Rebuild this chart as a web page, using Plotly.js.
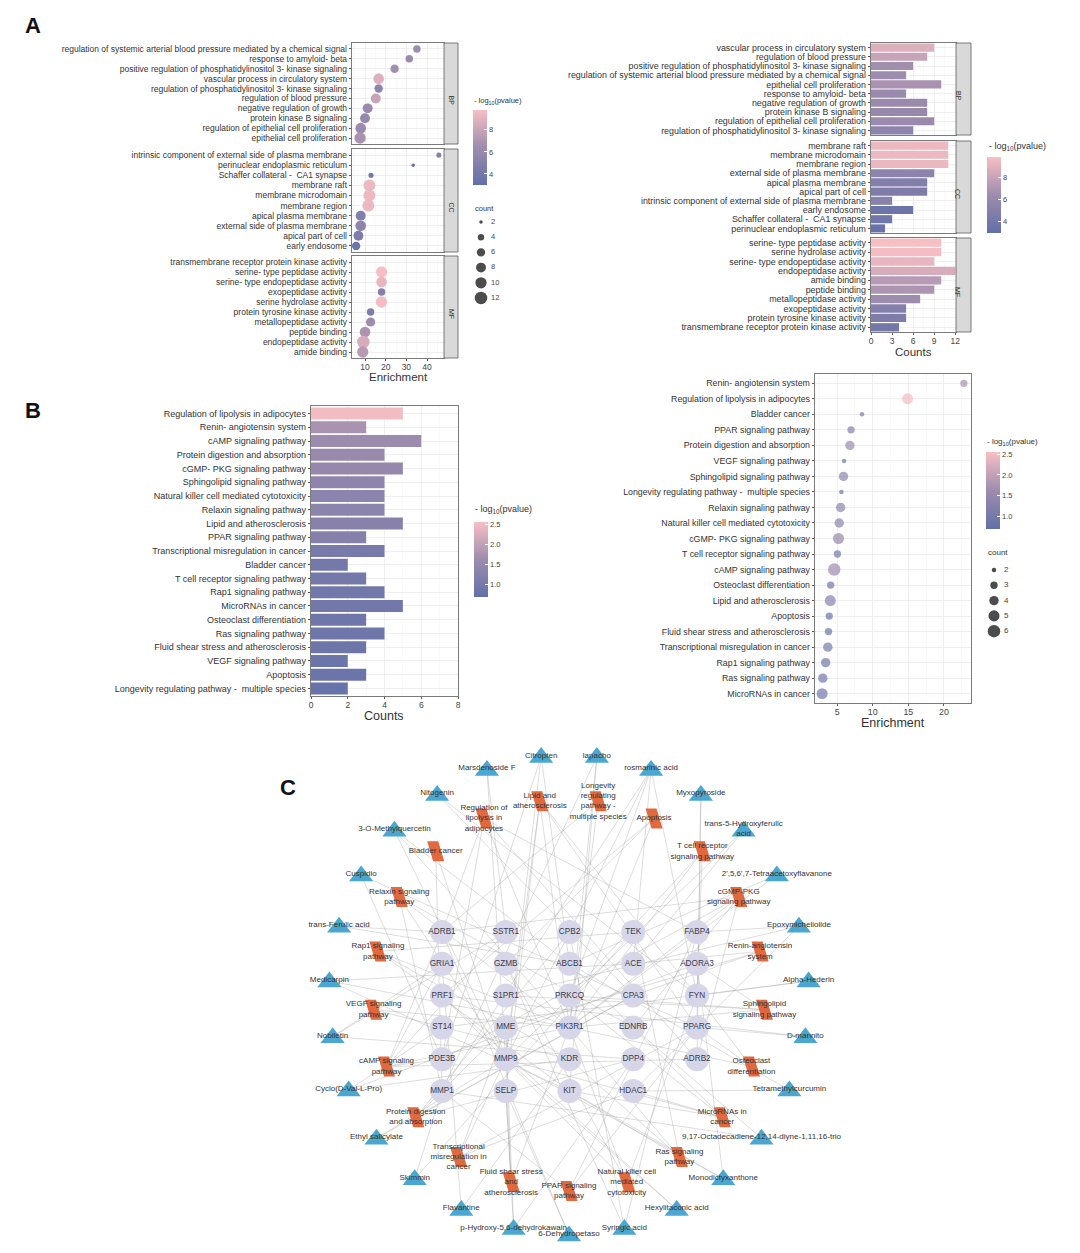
<!DOCTYPE html>
<html><head><meta charset="utf-8">
<script src="https://cdn.plot.ly/plotly-3.0.1.min.js"></script>
<style>html,body{margin:0;padding:0;background:#fff}#fig{width:1080px;height:1253px}</style>
</head><body><div id="fig"></div>
<script>
// ---------------- DATA ----------------
// GO - Biological process (dot-plot order, top to bottom)
const bpTerms = ["regulation of systemic arterial blood pressure mediated by a chemical signal","response to amyloid- beta","positive regulation of phosphatidylinositol 3- kinase signaling","vascular process in circulatory system","regulation of phosphatidylinositol 3- kinase signaling","regulation of blood pressure","negative regulation of growth","protein kinase B signaling","regulation of epithelial cell proliferation","epithelial cell proliferation"];
const bpEnrich = [35.1,31.4,24.3,16.6,16.6,15.2,11.3,10.0,7.9,7.6];
const bpCount  = [5,5,6,9,6,8,8,8,9,10];
const bpLogP   = [6.4,6.2,6.6,8.8,5.4,8.0,6.2,6.0,6.2,6.8];
const bpBarOrder = ["vascular process in circulatory system","regulation of blood pressure","positive regulation of phosphatidylinositol 3- kinase signaling","regulation of systemic arterial blood pressure mediated by a chemical signal","epithelial cell proliferation","response to amyloid- beta","negative regulation of growth","protein kinase B signaling","regulation of epithelial cell proliferation","regulation of phosphatidylinositol 3- kinase signaling"];

// GO - Cellular component
const ccTerms = ["intrinsic component of external side of plasma membrane","perinuclear endoplasmic reticulum","Schaffer collateral -  CA1 synapse","membrane raft","membrane microdomain","membrane region","apical plasma membrane","external side of plasma membrane","apical part of cell","early endosome"];
const ccEnrich = [45.7,33.3,12.9,12.1,12.1,11.6,7.9,7.9,6.8,5.7];
const ccCount  = [3,2,3,11,11,11,8,9,8,6];
const ccLogP   = [5.2,3.3,3.8,9.4,9.4,9.3,4.8,5.4,4.6,3.6];
const ccBarOrder = ["membrane raft","membrane microdomain","membrane region","external side of plasma membrane","apical plasma membrane","apical part of cell","intrinsic component of external side of plasma membrane","early endosome","Schaffer collateral -  CA1 synapse","perinuclear endoplasmic reticulum"];

// GO - Molecular function
const mfTerms = ["transmembrane receptor protein kinase activity","serine- type peptidase activity","serine- type endopeptidase activity","exopeptidase activity","serine hydrolase activity","protein tyrosine kinase activity","metallopeptidase activity","peptide binding","endopeptidase activity","amide binding"];
const mfEnrich = [null,18.0,18.0,18.0,18.0,12.7,12.7,10.0,9.2,8.9];
const mfCount  = [4,10,9,5,10,5,7,9,12,10];
const mfLogP   = [4.0,9.8,9.2,5.0,9.7,4.6,6.4,7.0,8.6,7.4];
const mfBarOrder = ["serine- type peptidase activity","serine hydrolase activity","serine- type endopeptidase activity","endopeptidase activity","amide binding","peptide binding","metallopeptidase activity","exopeptidase activity","protein tyrosine kinase activity","transmembrane receptor protein kinase activity"];

// KEGG (bar-chart order)
const keggTerms = ["Regulation of lipolysis in adipocytes","Renin- angiotensin system","cAMP signaling pathway","Protein digestion and absorption","cGMP- PKG signaling pathway","Sphingolipid signaling pathway","Natural killer cell mediated cytotoxicity","Relaxin signaling pathway","Lipid and atherosclerosis","PPAR signaling pathway","Transcriptional misregulation in cancer","Bladder cancer","T cell receptor signaling pathway","Rap1 signaling pathway","MicroRNAs in cancer","Osteoclast differentiation","Ras signaling pathway","Fluid shear stress and atherosclerosis","VEGF signaling pathway","Apoptosis","Longevity regulating pathway -  multiple species"];
const keggCount  = [5,3,6,4,5,4,4,4,5,3,4,2,3,4,5,3,4,3,2,3,2];
const keggLogP   = [2.5,1.75,1.6,1.55,1.5,1.4,1.35,1.35,1.3,1.25,1.05,1.0,1.0,0.95,0.95,0.9,0.9,0.88,0.85,0.85,0.8];
const keggEnrich = [14.9,22.8,4.6,6.8,5.2,5.9,5.3,5.5,4.05,6.96,3.7,8.5,5.05,3.4,2.9,4.1,3.0,3.8,5.98,3.9,5.6];
const keggDotOrder = ["Renin- angiotensin system","Regulation of lipolysis in adipocytes","Bladder cancer","PPAR signaling pathway","Protein digestion and absorption","VEGF signaling pathway","Sphingolipid signaling pathway","Longevity regulating pathway -  multiple species","Relaxin signaling pathway","Natural killer cell mediated cytotoxicity","cGMP- PKG signaling pathway","T cell receptor signaling pathway","cAMP signaling pathway","Osteoclast differentiation","Lipid and atherosclerosis","Apoptosis","Fluid shear stress and atherosclerosis","Transcriptional misregulation in cancer","Rap1 signaling pathway","Ras signaling pathway","MicroRNAs in cancer"];

// legend values
const goSizeLegend = [2,4,6,8,10,12];
const keggSizeLegend = [2,3,4,5,6];
const goCbTicks = [4,6,8];
const keggCbTicks = [1.0,1.5,2.0,2.5];

// Network
const netCompounds = ["Citropten","lapacho","rosmarinic acid","Myxopyroside","trans-5-Hydroxyferulic<br>acid","2',5,6',7-Tetraacetoxyflavanone","Epoxymicheliolide","Alpha-Hederin","D-mannito","Tetramethylcurcumin","9,17-Octadecadiene-12,14-diyne-1,11,16-trio","Monodictyxanthone","Hexylitaconic acid","Syringic acid","6-Dehydropetaso","p-Hydroxy-5,6-dehydrokawain","Flavantine","Skimmin","Ethyl salicylate","Cyclo(D-Val-L-Pro)","Nobiletin","Medicarpin","trans-Ferulic acid","Cuspidio","3-O-Methylquercetin","Nitogenin","Marsdenoside F"];
const netPathways = ["Lipid and<br>atherosclerosis","Longevity<br>regulating<br>pathway -<br>multiple species","Apoptosis","T cell receptor<br>signaling pathway","cGMP-PKG<br>signaling pathway","Renin-angiotensin<br>system","Sphingolipid<br>signaling pathway","Osteoclast<br>differentiation","MicroRNAs in<br>cancer","Ras signaling<br>pathway","Natural killer cell<br>mediated<br>cytotoxicity","PPAR signaling<br>pathway","Fluid shear stress<br>and<br>atherosclerosis","Transcriptional<br>misregulation in<br>cancer","Protein digestion<br>and absorption","cAMP signaling<br>pathway","VEGF signaling<br>pathway","Rap1 signaling<br>pathway","Relaxin signaling<br>pathway","Bladder cancer","Regulation of<br>lipolysis in<br>adipocytes"];
const netGenes = ["ADRB1","SSTR1","CPB2","TEK","FABP4","GRIA1","GZMB","ABCB1","ACE","ADORA3","PRF1","S1PR1","PRKCQ","CPA3","FYN","ST14","MME","PIK3R1","EDNRB","PPARG","PDE3B","MMP9","KDR","DPP4","ADRB2","MMP1","SELP","KIT","HDAC1"];
const pathwayGenes = [
 ["MMP9","PIK3R1","SELP","FYN","PPARG"],["ADRB1","PIK3R1"],["GZMB","PRF1","PIK3R1"],["FYN","PRKCQ","PIK3R1"],
 ["ADRB1","ADRB2","PDE3B","PIK3R1","EDNRB"],["ACE","MME","CPA3"],["S1PR1","PIK3R1","PRKCQ","ADORA3"],["FYN","PIK3R1","PPARG"],
 ["MMP9","HDAC1","ABCB1","KIT","PRKCQ"],["KDR","TEK","KIT","PIK3R1"],["GZMB","PRF1","PIK3R1","FYN"],["PPARG","FABP4","MMP1"],
 ["MMP9","PIK3R1","SELP"],["MMP9","PPARG","HDAC1","MME"],["MME","DPP4","CPB2","CPA3"],["ADRB1","ADRB2","PDE3B","PIK3R1","SSTR1","GRIA1"],
 ["KDR","PIK3R1"],["KDR","PIK3R1","TEK","KIT"],["MMP1","MMP9","PIK3R1","EDNRB"],["MMP1","MMP9"],["ADRB1","ADRB2","PDE3B","PIK3R1","FABP4"]];
const compoundGenes = [
 ["ABCB1","PDE3B","MMP9"],["KIT","MMP1","PIK3R1"],["MMP9","ACE","PRKCQ","MMP1","FYN"],["PPARG","ADRB2"],["MMP9","ACE"],
 ["ABCB1","PIK3R1"],["HDAC1","S1PR1","FABP4"],["ST14","FYN"],["PRF1","PPARG"],["HDAC1","ABCB1"],["MMP1","EDNRB"],
 ["KIT","ADORA3","MMP9"],["MMP9","PRF1"],["GZMB","CPB2","FABP4"],["SELP","ADRB1"],["SELP","MME","DPP4"],["GRIA1","KDR"],
 ["MMP1","TEK"],["CPA3","MMP9"],["ST14","KDR","ADORA3"],["GRIA1","SSTR1","DPP4"],["PIK3R1","ACE","KIT"],["ABCB1","ADRB1"],
 ["PPARG","PDE3B"],["MMP9","ABCB1","PIK3R1"],["FYN","CPA3"],["SSTR1","MMP9"]];

// ---------------- STYLE / HELPERS ----------------
const W=1080,H=1253;
const FONT='"Liberation Sans", Arial, Helvetica, sans-serif';
const TXT='#333';
const CSCALE=[[0,'#6270a8'],[0.5,'#9d8cad'],[1,'#f7bfc4']];
const px=v=>v/W, py=v=>1-v/H;
function dotSize(c,cmin,cmax,dmin,dmax){return Math.sqrt(dmin*dmin+(dmax*dmax-dmin*dmin)*(c-cmin)/(cmax-cmin));}
function lookup(order,terms,vals){return order.map(t=>vals[terms.indexOf(t)]);}

const layout={width:W,height:H,margin:{l:0,r:0,t:0,b:0},paper_bgcolor:'#fff',plot_bgcolor:'rgba(0,0,0,0)',
  showlegend:false,font:{family:FONT,color:TXT},shapes:[],annotations:[],hovermode:false};
const traces=[];
let nAx=0;
function panel(o){
  nAx++;
  const xk=nAx===1?'xaxis':'xaxis'+nAx, yk=nAx===1?'yaxis':'yaxis'+nAx;
  const xr=nAx===1?'x':'x'+nAx, yr=nAx===1?'y':'y'+nAx;
  const n=o.cats.length;
  layout[xk]={domain:[px(o.x0),px(o.x1)],anchor:yr,range:o.xrange,tick0:0,dtick:o.dtick,
    showgrid:true,gridcolor:'#ebebeb',gridwidth:0.8,zeroline:false,showline:true,mirror:true,linecolor:'#5a5a5a',linewidth:0.8,
    ticks:o.showX?'outside':'',ticklen:2.5,tickcolor:'#5a5a5a',showticklabels:!!o.showX,tickfont:{size:o.xfs||8,color:'#444'},
    ticklabelstandoff:-2,
    minor:{dtick:o.dtick/2,tick0:0,showgrid:true,gridcolor:'#f5f5f5',gridwidth:0.6},fixedrange:true};
  layout[yk]={domain:[py(o.y1),py(o.y0)],anchor:xr,type:'category',categoryorder:'array',categoryarray:o.cats,
    tickmode:'array',tickvals:o.cats,range:[n-1+o.pad,-o.pad],showgrid:true,gridcolor:'#ebebeb',gridwidth:0.8,
    showline:true,mirror:true,linecolor:'#5a5a5a',linewidth:0.8,ticks:'outside',ticklen:2.5,tickcolor:'#5a5a5a',
    tickfont:{size:o.yfs,color:TXT},fixedrange:true};
  if(o.strip){
    layout.shapes.push({type:'rect',xref:'paper',yref:'paper',x0:px(o.x1),x1:px(o.x1+o.stripW),y0:py(o.y1),y1:py(o.y0),
      fillcolor:'#d9d9d9',line:{color:'#5a5a5a',width:0.8}});
    layout.annotations.push({xref:'paper',yref:'paper',x:px(o.x1+o.stripW/2),y:py((o.y0+o.y1)/2),text:o.strip,showarrow:false,
      textangle:90,font:{size:7,color:'#333'}});
  }
  return {x:xr,y:yr};
}

// ---------------- PANEL A (left): GO dot plot ----------------
const goSets=[[bpTerms,bpEnrich,bpCount,bpLogP,'BP',43,144],[ccTerms,ccEnrich,ccCount,ccLogP,'CC',149,252],[mfTerms,mfEnrich,mfCount,mfLogP,'MF',256,358]];
goSets.forEach((s,i)=>{
  const ax=panel({x0:352,x1:444,y0:s[5],y1:s[6],xrange:[3.7,48.2],dtick:10,showX:i===2,cats:s[0],pad:0.6,yfs:8.5,xfs:8.5,strip:s[4],stripW:14});
  traces.push({type:'scatter',mode:'markers',x:s[1],y:s[0],xaxis:ax.x,yaxis:ax.y,cliponaxis:false,
    marker:{size:s[2].map(c=>dotSize(c,2,12,3.5,12.5)),color:s[3],coloraxis:'coloraxis',line:{width:0},opacity:1}});
});

// ---------------- PANEL A (right): GO bar plot ----------------
const goBar=[[bpBarOrder,bpTerms,bpCount,bpLogP,'BP',43,135],[ccBarOrder,ccTerms,ccCount,ccLogP,'CC',141,233],[mfBarOrder,mfTerms,mfCount,mfLogP,'MF',238,332]];
goBar.forEach((s,i)=>{
  const ax=panel({x0:871,x1:956,y0:s[5],y1:s[6],xrange:[0,12.1],dtick:3,showX:i===2,cats:s[0],pad:0.5,yfs:8.9,xfs:8.5,strip:s[4],stripW:15});
  traces.push({type:'bar',orientation:'h',x:lookup(s[0],s[1],s[2]),y:s[0],xaxis:ax.x,yaxis:ax.y,width:0.88,
    marker:{color:lookup(s[0],s[1],s[3]),coloraxis:'coloraxis2',line:{width:0}}});
});

// ---------------- PANEL B (left): KEGG bar ----------------
{
  const ax=panel({x0:311,x1:458,y0:406,y1:696,xrange:[0,8],dtick:2,showX:true,cats:keggTerms,pad:0.55,yfs:9,xfs:8.5});
  traces.push({type:'bar',orientation:'h',x:keggCount,y:keggTerms,xaxis:ax.x,yaxis:ax.y,width:0.88,
    marker:{color:keggLogP,coloraxis:'coloraxis3',line:{width:0}}});
}
// ---------------- PANEL B (right): KEGG dot ----------------
{
  const ax=panel({x0:815,x1:971,y0:374,y1:703,xrange:[1.9,23.8],dtick:5,showX:true,cats:keggDotOrder,pad:0.6,yfs:8.8,xfs:8.8});
  traces.push({type:'scatter',mode:'markers',x:lookup(keggDotOrder,keggTerms,keggEnrich),y:keggDotOrder,xaxis:ax.x,yaxis:ax.y,cliponaxis:false,
    marker:{size:lookup(keggDotOrder,keggTerms,keggCount).map(c=>dotSize(c,2,6,4.5,12.5)),color:lookup(keggDotOrder,keggTerms,keggLogP),coloraxis:'coloraxis4',line:{width:0}}});
}

// ---------------- colour axes ----------------
function cbar(x0,y0,y1,ticks){
  return {x:px(x0),xanchor:'left',y:py((y0+y1)/2),yanchor:'middle',len:y1-y0,lenmode:'pixels',thickness:14,thicknessmode:'pixels',
    xpad:0,ypad:0,outlinewidth:0,tickmode:'array',tickvals:ticks,ticks:'inside',ticklen:3,tickcolor:'#fff',
    tickfont:{size:7.5,color:'#444'},title:{text:''}};
}
layout.coloraxis ={colorscale:CSCALE,cmin:3,cmax:9.8,colorbar:cbar(473,110,185,goCbTicks)};
layout.coloraxis2={colorscale:CSCALE,cmin:3,cmax:9.8,colorbar:cbar(987,157,233,goCbTicks)};
layout.coloraxis3={colorscale:CSCALE,cmin:0.7,cmax:2.55,colorbar:cbar(474,522,597,keggCbTicks)};
layout.coloraxis4={colorscale:CSCALE,cmin:0.7,cmax:2.55,colorbar:cbar(986,452,529,keggCbTicks)};
layout.coloraxis3.colorbar.tickformat='.1f';
layout.coloraxis4.colorbar.tickformat='.1f';

// ---------------- overlay (pixel) axes for network + size legends ----------------
nAx++;
const OX='x'+nAx, OY='y'+nAx;
layout['xaxis'+nAx]={domain:[0,1],range:[0,W],visible:false,fixedrange:true,anchor:OY};
layout['yaxis'+nAx]={domain:[0,1],range:[H,0],visible:false,fixedrange:true,anchor:OX};

// size legends
function sizeLegend(vals,x,y0,step,cmin,cmax,dmin,dmax,fs){
  const ys=vals.map((v,i)=>y0+i*step);
  traces.push({type:'scatter',mode:'markers',x:vals.map(()=>x),y:ys,xaxis:OX,yaxis:OY,cliponaxis:false,
    marker:{color:'#000',size:vals.map(c=>dotSize(c,cmin,cmax,dmin,dmax)),line:{width:0}}});
  traces.push({type:'scatter',mode:'text',x:vals.map(()=>x+10),y:ys,text:vals.map(String),textposition:'middle right',
    xaxis:OX,yaxis:OY,cliponaxis:false,textfont:{size:fs,color:'#444'}});
}
sizeLegend(goSizeLegend,481,222,15.2,2,12,3.5,12.5,7.5);
sizeLegend(keggSizeLegend,994,570,15.3,2,6,4.5,12.5,8);

// network layout: two concentric rings + inner grid
const CX=569, CY=995;
function ringPos(n,r,i){const a=(-180/n+i*360/n)*Math.PI/180;return [CX+r*Math.sin(a),CY-r*Math.cos(a)];}
const compPos=netCompounds.map((_,i)=>ringPos(netCompounds.length,240,i));
const pathPos=netPathways.map((_,i)=>ringPos(netPathways.length,196,i));
const genePos=netGenes.map((_,i)=>[442+(i%5)*63.75,932+Math.floor(i/5)*31.8]);
const ex=[],ey=[];
function edge(a,b){ex.push(a[0],b[0],null);ey.push(a[1],b[1],null);}
pathwayGenes.forEach((gs,i)=>gs.forEach(g=>edge(pathPos[i],genePos[netGenes.indexOf(g)])));
compoundGenes.forEach((gs,i)=>gs.forEach(g=>edge(compPos[i],genePos[netGenes.indexOf(g)])));
traces.push({type:'scatter',mode:'lines',x:ex,y:ey,xaxis:OX,yaxis:OY,line:{color:'rgba(150,150,150,0.55)',width:0.6},cliponaxis:false});
// pathway parallelograms (filled polygons)
const qx=[],qy=[];
pathPos.forEach(p=>{const w=11,h=20,s=6;
  qx.push(p[0]-w/2-s/2,p[0]+w/2-s/2,p[0]+w/2+s/2,p[0]-w/2+s/2,p[0]-w/2-s/2,null);
  qy.push(p[1]-h/2,p[1]-h/2,p[1]+h/2,p[1]+h/2,p[1]-h/2,null);});
traces.push({type:'scatter',mode:'lines',x:qx,y:qy,fill:'toself',fillcolor:'#e0693f',line:{width:0,color:'#e0693f'},xaxis:OX,yaxis:OY,cliponaxis:false});
// compounds
traces.push({type:'scatter',mode:'markers',x:compPos.map(p=>p[0]),y:compPos.map(p=>p[1]+1),xaxis:OX,yaxis:OY,cliponaxis:false,
  marker:{symbol:'triangle-up',size:21,color:'#4ba7cf',line:{width:0}}});
// genes
traces.push({type:'scatter',mode:'markers+text',x:genePos.map(p=>p[0]),y:genePos.map(p=>p[1]),text:netGenes,textposition:'middle center',
  xaxis:OX,yaxis:OY,cliponaxis:false,marker:{symbol:'circle',size:24,color:'#d6d6e8',line:{width:0}},textfont:{size:8.2,color:'#3a3a4a'}});
// labels
traces.push({type:'scatter',mode:'text',x:compPos.map(p=>p[0]),y:compPos.map(p=>p[1]-1),text:netCompounds,textposition:'middle center',
  xaxis:OX,yaxis:OY,cliponaxis:false,textfont:{size:8,color:'#333'}});
traces.push({type:'scatter',mode:'text',x:pathPos.map(p=>p[0]),y:pathPos.map(p=>p[1]),text:netPathways,textposition:'middle center',
  xaxis:OX,yaxis:OY,cliponaxis:false,textfont:{size:8,color:'#333'}});

// ---------------- annotations ----------------
function ann(text,x,y,size,extra){layout.annotations.push(Object.assign({xref:'paper',yref:'paper',x:px(x),y:py(y),text:text,showarrow:false,
  xanchor:'center',yanchor:'middle',font:{size:size,color:TXT}},extra||{}));}
ann('<b>A</b>',33,26,22,{font:{size:22,color:'#111'}});
ann('<b>B</b>',33,410,22,{font:{size:22,color:'#111'}});
ann('<b>C</b>',288,787,22,{font:{size:22,color:'#111'}});
ann('Enrichment',398,377,11.5);
ann('Counts',913,352,11.5);
ann('Counts',384,716,12.5);
ann('Enrichment',893,723,12.5);
ann('- log<sub>10</sub>(pvalue)',472,101,7.5,{xanchor:'left'});
ann('- log<sub>10</sub>(pvalue)',987,146,9,{xanchor:'left'});
ann('- log<sub>10</sub>(pvalue)',473,509,9,{xanchor:'left'});
ann('- log<sub>10</sub>(pvalue)',985,442,8,{xanchor:'left'});
ann('count',473,208,7.5,{xanchor:'left'});
ann('count',986,553,8,{xanchor:'left'});

Plotly.newPlot('fig',traces,layout,{displayModeBar:false,staticPlot:true});
</script></body></html>
